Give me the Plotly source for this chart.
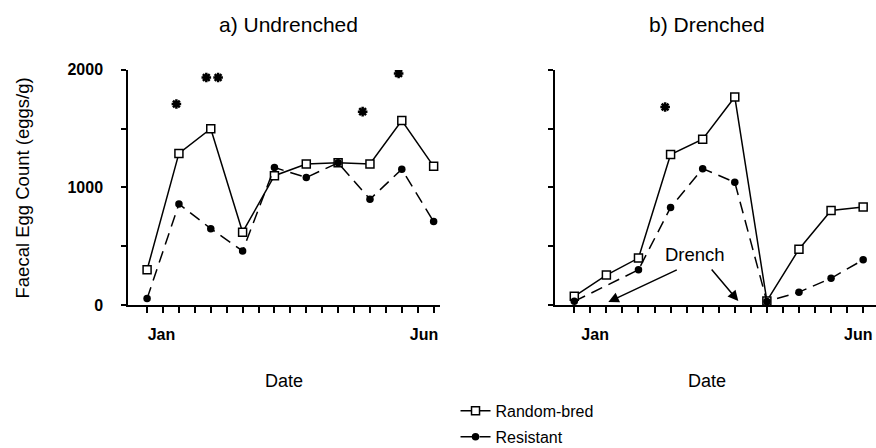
import plotly.graph_objects as go

# sampling occasions (index along the date axis)
occasions = [0, 1, 2, 3, 4, 5, 6, 7, 8, 9]

# a) Undrenched
random_bred_a = [300, 1290, 1500, 620, 1100, 1200, 1210, 1200, 1570, 1180]
resistant_a = [55, 860, 650, 460, 1170, 1085, 1210, 900, 1155, 710]
sig_a_x = [0.92, 1.86, 2.23, 6.77, 7.9]
sig_a_y = [1710, 1935, 1935, 1645, 1970]

# b) Drenched
random_bred_b = [75, 255, 400, 1280, 1410, 1770, 35, 475, 805, 835]
resistant_b = [32, None, 300, 830, 1160, 1045, 30, 110, 228, 385]
sig_b_x = [2.83]
sig_b_y = [1685]

y_ticks = [0, 500, 1000, 1500, 2000]
y_text = ["0", "", "1000", "", "2000"]
minor_x = [i / 2 for i in range(0, 19)]

font = "Liberation Sans, Arial, Helvetica, sans-serif"

rb_line = dict(color="black", width=1.5)
rs_line = dict(color="black", width=1.5, dash="12px,7px")
rb_marker = dict(symbol="square", size=8, color="white", line=dict(color="black", width=1.5))
rs_marker = dict(symbol="circle", size=7.5, color="black")
star = dict(symbol="asterisk-open", size=8, color="black", line=dict(color="black", width=2.5))

fig = go.Figure()

for xa, ya, rb, rs, sx, sy, show in [
	("x", "y", random_bred_a, resistant_a, sig_a_x, sig_a_y, True),
	("x2", "y2", random_bred_b, resistant_b, sig_b_x, sig_b_y, False),
]:
	fig.add_trace(go.Scatter(
		x=occasions, y=rb, xaxis=xa, yaxis=ya, mode="lines+markers",
		line=rb_line, marker=rb_marker, name="Random-bred", legendgroup="rb",
		showlegend=show, cliponaxis=False,
	))
	fig.add_trace(go.Scatter(
		x=occasions, y=rs, xaxis=xa, yaxis=ya, mode="lines+markers",
		line=rs_line, marker=rs_marker, name="Resistant", legendgroup="rs",
		showlegend=show, connectgaps=True, cliponaxis=False,
	))
	fig.add_trace(go.Scatter(
		x=sx, y=sy, xaxis=xa, yaxis=ya, mode="markers",
		marker=star, showlegend=False, hoverinfo="skip",
	))

x_common = dict(
	showline=True, linecolor="black", linewidth=1.5, showgrid=False, zeroline=False,
	automargin=False, tickmode="array", ticks="", ticklabelstandoff=14,
	tickfont=dict(family=font, size=16, color="black", weight="bold"),
	minor=dict(tickmode="array", tickvals=minor_x, ticks="outside", ticklen=6,
			   tickwidth=1.5, tickcolor="black", showgrid=False),
)
y_common = dict(
	showline=True, linecolor="black", linewidth=1.5, showgrid=False, zeroline=False,
	automargin=False, range=[0, 2000], tickmode="array", tickvals=y_ticks, ticktext=y_text,
	ticks="outside", ticklen=5, tickwidth=1.5, tickcolor="black",
	tickfont=dict(family=font, size=16, color="black", weight="bold"),
	domain=[0.319, 0.844],
)

title_font = dict(size=21)
fig.update_layout(
	width=876, height=448,
	margin=dict(l=0, r=0, t=0, b=0, autoexpand=False),
	paper_bgcolor="white", plot_bgcolor="white",
	font=dict(family=font, color="black"),
	xaxis=dict(x_common, domain=[0.1461, 0.5023], range=[-0.6, 9.2],
			   tickvals=[0.45, 8.7], ticktext=["Jan", "Jun"], anchor="y"),
	yaxis=dict(y_common, anchor="x", ticklabelstandoff=15),
	xaxis2=dict(x_common, domain=[0.6336, 1.0], range=[-0.6, 9.4],
				tickvals=[0.65, 8.85], ticktext=["Jan", "Jun"], anchor="y2"),
	yaxis2=dict(y_common, anchor="x2", showticklabels=False),
	showlegend=True,
	legend=dict(x=0.52, y=0.1206, xanchor="left", yanchor="top",
				font=dict(family=font, size=16, color="black"),
				bgcolor="rgba(0,0,0,0)", tracegroupgap=2),
	annotations=[
		dict(text="a) Undrenched", x=0.3288, y=0.946, xref="paper", yref="paper",
			 xanchor="center", yanchor="middle", showarrow=False, font=title_font),
		dict(text="b) Drenched", x=0.807, y=0.946, xref="paper", yref="paper",
			 xanchor="center", yanchor="middle", showarrow=False, font=title_font),
		dict(text="Date", x=0.324, y=0.1496, xref="paper", yref="paper",
			 xanchor="center", yanchor="middle", showarrow=False, font=dict(size=18)),
		dict(text="Date", x=0.807, y=0.1496, xref="paper", yref="paper",
			 xanchor="center", yanchor="middle", showarrow=False, font=dict(size=18)),
		dict(text="Faecal Egg Count (eggs/g)", x=0.026, y=0.581, xref="paper", yref="paper",
			 xanchor="center", yanchor="middle", showarrow=False, textangle=-90,
			 font=dict(size=18.5)),
		dict(text="Drench", x=3.77, y=434, xref="x2", yref="y2",
			 showarrow=False, font=dict(size=18.5)),
		dict(text="", x=1.06, y=26, ax=3.24, ay=306, xref="x2", yref="y2",
			 axref="x2", ayref="y2", showarrow=True, arrowhead=2, arrowsize=1.4,
			 arrowwidth=1.5, arrowcolor="black"),
		dict(text="", x=5.11, y=34, ax=4.24, ay=315, xref="x2", yref="y2",
			 axref="x2", ayref="y2", showarrow=True, arrowhead=2, arrowsize=1.4,
			 arrowwidth=1.5, arrowcolor="black"),
	],
)

fig.write_html("out.html", config={"displayModeBar": False},
			   post_script="document.body.style.margin='0';")
